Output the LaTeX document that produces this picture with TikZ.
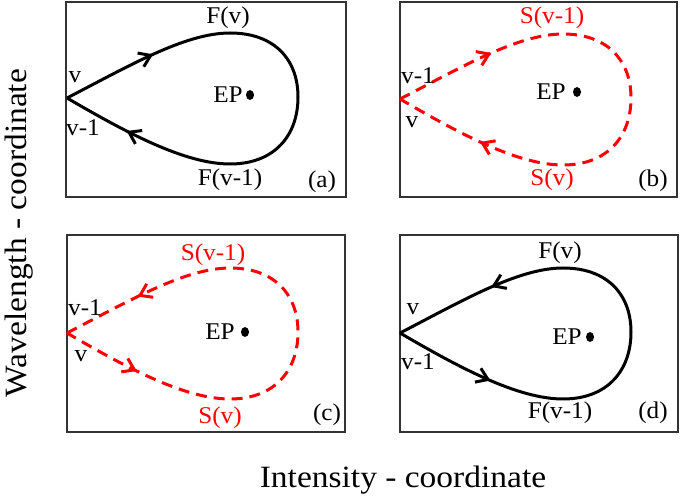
\documentclass[tikz,border=0pt]{standalone}
\usepackage{fontspec}
\setmainfont{Liberation Serif}
\newfontfamily\lblfam{Liberation Serif}[FakeStretch=1.05]
\newfontfamily\axfam{Liberation Serif}[FakeStretch=1.08]
\usetikzlibrary{arrows.meta,decorations.markings}
\tikzset{
  lab/.style={inner sep=0pt, font=\lblfam\fontsize{24}{28}\selectfont},
  redlab/.style={lab, text=red},
  axlab/.style={inner sep=0pt, font=\axfam\fontsize{31}{36}\selectfont},
  panel/.style={draw=black!80, line width=1.3pt},
  solidcurve/.style={draw=black, line width=3pt},
  dashcurve/.style={draw=red, line width=3pt, dash pattern=on 11pt off 7pt},
  barb/.tip={Straight Barb[length=11pt,width=15pt]},
  fwdarrows/.style 2 args={postaction={decorate}, decoration={markings,
     mark=at position #1 with {\arrow{barb}},
     mark=at position #2 with {\arrow{barb}}}},
  revarrows/.style 2 args={postaction={decorate}, decoration={markings,
     mark=at position #1 with {\arrowreversed{barb}},
     mark=at position #2 with {\arrowreversed{barb}}}},
}
\newcommand\dropshape{(0,0) .. controls (62,-32) and (118,-65) .. (163,-65)
   .. controls (208,-65) and (231,-38) .. (231,-1)
   .. controls (231,37) and (208,66) .. (163,66)
   .. controls (118,66) and (60,35) .. (0,0)}
\begin{document}
\begin{tikzpicture}[x=1pt,y=-1pt]
\useasboundingbox (0,0) rectangle (681,502);
% panels
\draw[panel] (66,2) rectangle (346,197);
\draw[panel] (400,2) rectangle (677,197);
\draw[panel] (67,235) rectangle (345,432);
\draw[panel] (400,235) rectangle (678,432);
% (a)
\begin{scope}[shift={(67,98)}]
  \draw[solidcurve, fwdarrows={0.17}{0.88}] \dropshape;
\end{scope}
\fill (250,95) ellipse (4pt and 5pt);
\node[lab] (epa) at (228,95) {EP};
\node[lab] (va) at (75,77) {v};
\node[lab] (v1a) at (83,128) {v-1};
\node[lab] (fva) at (228,18) {F(v)};
\node[lab] (fv1a) at (230,180) {F(v-1)};
\node[lab] (ta) at (322,182) {(a)};
% (b)
\begin{scope}[shift={(400,99)}]
  \draw[dashcurve, fwdarrows={0.18}{0.84}] \dropshape;
\end{scope}
\fill (577,92) ellipse (4pt and 5pt);
\node[lab] (epb) at (551,92) {EP};
\node[lab] (v1b) at (418,76) {v-1};
\node[lab] (vb) at (412,122) {v};
\node[redlab] (sv1b) at (552,18) {S(v-1)};
\node[redlab] (svb) at (552,180) {S(v)};
\node[lab] (tb) at (653,181) {(b)};
% (c)
\begin{scope}[shift={(67,333)}]
  \draw[dashcurve, revarrows={0.14}{0.86}] \dropshape;
\end{scope}
\fill (245,332) ellipse (4pt and 5pt);
\node[lab] (epc) at (220,332) {EP};
\node[lab] (v1c) at (85,308) {v-1};
\node[lab] (vc) at (81,356) {v};
\node[redlab] (sv1c) at (213,255) {S(v-1)};
\node[redlab] (svc) at (220,418) {S(v)};
\node[lab] (tc) at (327,415) {(c)};
% (d)
\begin{scope}[shift={(400,333)}]
  \draw[solidcurve, revarrows={0.18}{0.82}] \dropshape;
\end{scope}
\fill (590,337) ellipse (4pt and 5pt);
\node[lab] (epd) at (567,337) {EP};
\node[lab] (vd) at (413,309) {v};
\node[lab] (v1d) at (418,362) {v-1};
\node[lab] (fvd) at (560,253) {F(v)};
\node[lab] (fv1d) at (560,413) {F(v-1)};
\node[lab] (td) at (653,413) {(d)};
% axis labels
\node[axlab, rotate=90] (ylab) at (19,233) {Wavelength - coordinate};
\node[axlab] (xlab) at (403,480) {Intensity - coordinate};
\end{tikzpicture}
\end{document}
